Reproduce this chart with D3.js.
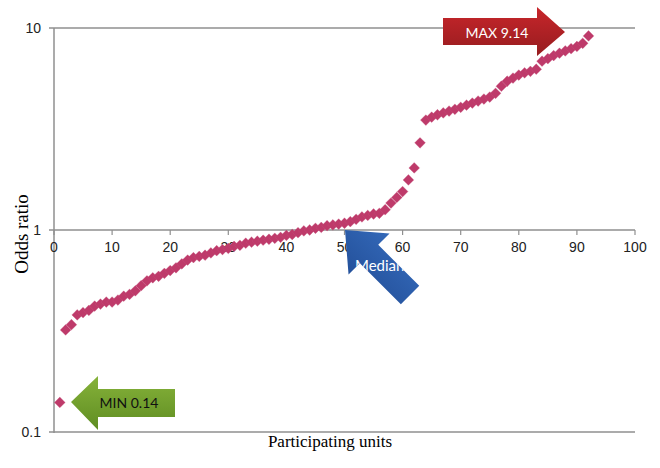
<!DOCTYPE html>
<html>
<head>
<meta charset="utf-8">
<title>Odds ratio by participating unit</title>
<style>
  body { margin: 0; background: #fff; }
</style>
</head>
<body>
<script src="https://d3js.org/d3.v7.min.js"></script>
<script>
// odds ratios, units ranked from lowest to highest
const oddsRatio = [
  0.14, 0.32, 0.34, 0.38, 0.39, 0.40, 0.42, 0.43, 0.44, 0.44,
  0.45, 0.47, 0.48, 0.50, 0.53, 0.56, 0.58, 0.59, 0.61, 0.63,
  0.65, 0.68, 0.71, 0.73, 0.74, 0.75, 0.77, 0.79, 0.80, 0.81,
  0.83, 0.84, 0.86, 0.87, 0.88, 0.89, 0.90, 0.91, 0.92, 0.94,
  0.95, 0.97, 0.99, 1.00, 1.02, 1.03, 1.05, 1.06, 1.07, 1.08,
  1.10, 1.13, 1.16, 1.18, 1.20, 1.21, 1.26, 1.36, 1.45, 1.55,
  1.77, 2.03, 2.70, 3.50, 3.62, 3.72, 3.80, 3.88, 3.96, 4.05,
  4.15, 4.25, 4.35, 4.45, 4.55, 4.75, 5.15, 5.45, 5.65, 5.85,
  6.00, 6.10, 6.25, 6.85, 7.05, 7.30, 7.50, 7.70, 7.90, 8.10,
  8.40, 9.14
];
const unitRank = d3.range(1, oddsRatio.length + 1);
const xTicks = [0, 10, 20, 30, 40, 50, 60, 70, 80, 90, 100];
const yTicks = [0.1, 1, 10];
const yTickLabels = ["0.1", "1", "10"];

const svg = d3.select("body").append("svg")
    .attr("width", 660).attr("height", 468);

let x = d3.scaleLinear().domain([0, 100]).range([54, 635]);
let y = d3.scaleLog().domain([0.1, 10]).range([432, 28]);

let axisColor = "#8f8f8f";

// horizontal lines at each decade (the one at 1 is the x axis)
svg.selectAll("line.grid")
    .data(yTicks)
    .enter()
    .append("line")
    .attr("class", "grid")
    .attr("x1", 49).attr("x2", x(100))
    .attr("y1", d => y(d)).attr("y2", d => y(d))
    .attr("stroke", axisColor).attr("stroke-width", 1.5);

// vertical axis
svg.append("line")
    .attr("x1", x(0)).attr("x2", x(0))
    .attr("y1", y(10)).attr("y2", y(0.1) + 1)
    .attr("stroke", axisColor).attr("stroke-width", 1.5);

// x ticks hanging from the line at 1
svg.selectAll("line.xtick")
    .data(xTicks)
    .enter()
    .append("line")
    .attr("class", "xtick")
    .attr("x1", d => x(d)).attr("x2", d => x(d))
    .attr("y1", y(1)).attr("y2", y(1) + 5)
    .attr("stroke", axisColor).attr("stroke-width", 1.2);

svg.selectAll("text.xlab")
    .data(xTicks)
    .enter()
    .append("text")
    .attr("class", "xlab")
    .attr("x", d => x(d))
    .attr("y", y(1) + 22)
    .attr("text-anchor", "middle")
    .attr("font-family", "Liberation Sans, Arial, sans-serif")
    .attr("font-size", 14)
    .attr("fill", "#222")
    .text(d => d);

svg.selectAll("text.ylab")
    .data(yTicks)
    .enter()
    .append("text")
    .attr("class", "ylab")
    .attr("x", 41)
    .attr("y", d => y(d) + 5)
    .attr("text-anchor", "end")
    .attr("font-family", "Liberation Sans, Arial, sans-serif")
    .attr("font-size", 14)
    .attr("fill", "#222")
    .text((d, i) => yTickLabels[i]);

// axis titles
svg.append("text")
    .attr("x", 330).attr("y", 447)
    .attr("text-anchor", "middle")
    .attr("font-family", "Liberation Serif, Times New Roman, serif")
    .attr("font-size", 17)
    .text("Participating units");

svg.append("text")
    .attr("transform", "translate(28,234) rotate(-90)")
    .attr("text-anchor", "middle")
    .attr("font-family", "Liberation Serif, Times New Roman, serif")
    .attr("font-size", 19)
    .text("Odds ratio");

// diamond markers
let diamond = d3.symbol().type(d3.symbolSquare).size(58);
svg.selectAll("path.pt")
    .data(oddsRatio)
    .enter()
    .append("path")
    .attr("class", "pt")
    .attr("d", diamond)
    .attr("transform", (d, i) => "translate(" + x(unitRank[i]) + "," + y(d) + ") rotate(45)")
    .attr("fill", "#be3a6a")
    .attr("stroke", "#c9557f")
    .attr("stroke-width", 0.3);

// gradients for the callout arrows
let defs = svg.append("defs");
function grad(id, c1, c2) {
    let g = defs.append("linearGradient").attr("id", id)
        .attr("x1", 0).attr("y1", 0).attr("x2", 0).attr("y2", 1);
    g.append("stop").attr("offset", "0%").attr("stop-color", c1);
    g.append("stop").attr("offset", "100%").attr("stop-color", c2);
}
grad("gRed", "#c8262b", "#961c1f");
grad("gGreen", "#86b23a", "#5f8d22");
grad("gBlue", "#3368b8", "#24519b");

// MAX arrow (points right)
let maxPts = [[443, 18], [537, 18], [537, 7], [565, 32], [537, 56], [537, 45], [443, 45]];
svg.append("polygon")
    .attr("points", maxPts.map(p => p.join(",")).join(" "))
    .attr("fill", "url(#gRed)");
svg.append("text")
    .attr("x", 497).attr("y", 38)
    .attr("text-anchor", "middle")
    .attr("font-family", "Lato, Open Sans, sans-serif")
    .attr("font-size", 14)
    .attr("fill", "#fff")
    .text("MAX " + d3.max(oddsRatio).toFixed(2));

// MIN arrow (points left)
let minPts = [[71, 402], [98, 376], [98, 389], [175, 389], [175, 417], [98, 417], [98, 430]];
svg.append("polygon")
    .attr("points", minPts.map(p => p.join(",")).join(" "))
    .attr("fill", "url(#gGreen)");
svg.append("text")
    .attr("x", 129).attr("y", 408)
    .attr("text-anchor", "middle")
    .attr("font-family", "Lato, Open Sans, sans-serif")
    .attr("font-size", 14)
    .attr("fill", "#111")
    .text("MIN " + d3.min(oddsRatio).toFixed(2));

// Median arrow (points up-left, drawn along +x then rotated)
let medLocal = [[0, 0], [34, -29], [34, -13], [92, -13], [92, 13], [34, 13], [34, 29]];
let medT = "translate(345,230) rotate(45)";
defs.append("clipPath").attr("id", "medClip")
    .append("polygon")
    .attr("points", medLocal.map(p => p.join(",")).join(" "))
    .attr("transform", medT);
svg.append("polygon")
    .attr("points", medLocal.map(p => p.join(",")).join(" "))
    .attr("transform", medT)
    .attr("fill", "url(#gBlue)");
svg.append("text")
    .attr("x", 355).attr("y", 271)
    .attr("font-family", "Lato, Open Sans, sans-serif")
    .attr("font-size", 15)
    .attr("fill", "#fff")
    .attr("clip-path", "url(#medClip)")
    .text("Median");
</script>
</body>
</html>
